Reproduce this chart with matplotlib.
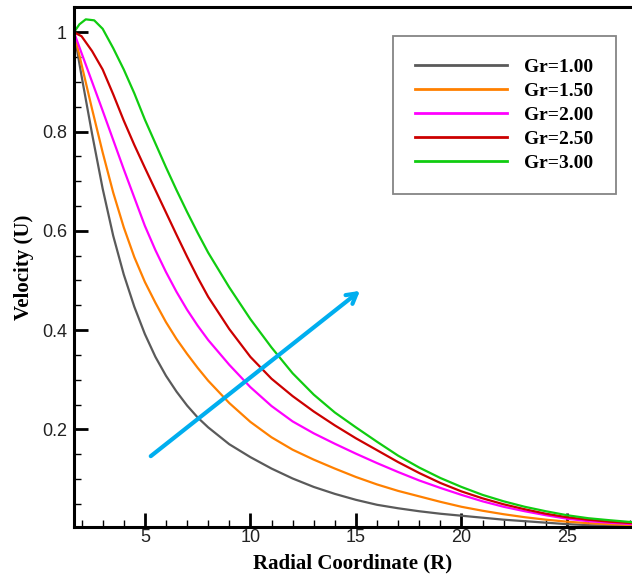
import matplotlib
matplotlib.use("Agg")
from matplotlib import pyplot as plt
from matplotlib.ticker import MultipleLocator, FormatStrFormatter

# data
labels = ["Gr=1.00", "Gr=1.50", "Gr=2.00", "Gr=2.50", "Gr=3.00"]
colores = ["#5a5a5a", "#ff8000", "#ff00ff", "#cc0000", "#10cc10"]

r = [1.64, 2.0, 2.5, 3.0, 3.5, 4.0, 4.5, 5.0, 5.5, 6.0, 6.5, 7.0, 7.5, 8.0,
     9.0, 10.0, 11.0, 12.0, 13.0, 14.0, 15.0, 16.0, 17.0, 18.0, 19.0, 20.0,
     21.0, 22.0, 23.0, 24.0, 25.0, 26.0, 27.0, 28.1]

u_gr1 = [1.0, 0.912, 0.795, 0.685, 0.59, 0.512, 0.447, 0.392, 0.346, 0.308, 0.276, 0.248, 0.224, 0.204,
         0.170, 0.144, 0.121, 0.101, 0.084, 0.070, 0.058, 0.048, 0.041, 0.035, 0.030, 0.026,
         0.022, 0.018, 0.015, 0.012, 0.009, 0.007, 0.006, 0.005]

u_gr15 = [1.0, 0.935, 0.845, 0.758, 0.677, 0.607, 0.547, 0.497, 0.455, 0.416, 0.382, 0.352, 0.324, 0.298,
          0.253, 0.215, 0.184, 0.159, 0.139, 0.121, 0.104, 0.089, 0.076, 0.065, 0.054, 0.044,
          0.036, 0.029, 0.023, 0.018, 0.014, 0.011, 0.009, 0.007]

u_gr2 = [1.0, 0.958, 0.90, 0.842, 0.783, 0.724, 0.667, 0.610, 0.561, 0.517, 0.477, 0.441, 0.409, 0.380,
         0.330, 0.285, 0.247, 0.216, 0.192, 0.171, 0.151, 0.132, 0.114, 0.097, 0.082, 0.068,
         0.055, 0.044, 0.035, 0.027, 0.020, 0.015, 0.012, 0.009]

u_gr25 = [1.0, 0.992, 0.962, 0.925, 0.875, 0.822, 0.773, 0.727, 0.682, 0.637, 0.592, 0.548, 0.506, 0.467,
          0.402, 0.346, 0.302, 0.267, 0.236, 0.208, 0.182, 0.158, 0.134, 0.112, 0.092, 0.075,
          0.061, 0.049, 0.039, 0.030, 0.023, 0.018, 0.014, 0.011]

r_gr3 = [1.64, 1.9, 2.2, 2.6] + r[3:]
u_gr3 = [1.0, 1.016, 1.026, 1.024, 1.007, 0.968, 0.925, 0.877, 0.824, 0.776, 0.728, 0.682, 0.638, 0.596, 0.556,
         0.486, 0.422, 0.365, 0.313, 0.270, 0.234, 0.204, 0.175, 0.147, 0.123, 0.102, 0.084,
         0.068, 0.055, 0.044, 0.035, 0.027, 0.021, 0.017, 0.013]

flecha_ini = (5.28, 0.146)
flecha_fin = (15.19, 0.479)

series = [(r, u_gr1), (r, u_gr15), (r, u_gr2), (r, u_gr25), (r_gr3, u_gr3)]

fig = plt.figure(figsize=(6.32, 5.78), dpi=100)
ax = fig.add_axes([0.117, 0.088, 0.883, 0.9])

for (x, u), lab, col in zip(series, labels, colores):
    ax.plot(x, u, color=col, lw=1.6, label=lab)

ax.annotate("", xy=flecha_fin, xytext=flecha_ini,
            arrowprops=dict(arrowstyle="->,head_length=0.7,head_width=0.4",
                            lw=3, color="#00aeef", shrinkA=0, shrinkB=0))

ax.set_xlim(1.64, 28.08)
ax.set_ylim(0.003, 1.051)
ax.xaxis.set_minor_locator(MultipleLocator(1))
ax.yaxis.set_minor_locator(MultipleLocator(0.05))
ax.yaxis.set_major_formatter(FormatStrFormatter("%g"))
ax.set_yticks([0.2, 0.4, 0.6, 0.8, 1.0])
ax.set_xticks([5, 10, 15, 20, 25])

ax.tick_params(which="major", direction="in", length=10, width=2, labelsize=13,
               labelcolor="#222222", labelfontfamily="Liberation Sans")
ax.tick_params(which="minor", direction="in", length=5, width=1)
ax.tick_params(axis="x", which="major", pad=1)
ax.tick_params(axis="y", which="major", pad=5)

for s in ["left", "bottom", "top"]:
    ax.spines[s].set_linewidth(2.2)
ax.spines["right"].set_visible(False)

ax.set_xlabel("Radial Coordinate (R)", fontsize=15, fontweight="bold",
              family="Liberation Serif", labelpad=6)
ax.set_ylabel("Velocity (U)", fontsize=15, fontweight="bold",
              family="Liberation Serif", labelpad=6)

leg = ax.legend(loc="upper right", bbox_to_anchor=(615.7 / 632, 1 - 36 / 578),
                bbox_transform=fig.transFigure, frameon=True, fancybox=False,
                prop=dict(family="Liberation Serif", weight="bold", size=14),
                handlelength=4.7, handletextpad=0.9, labelspacing=0.33,
                borderpad=1.15, borderaxespad=0)
leg.get_frame().set_edgecolor("#666666")
leg.get_frame().set_linewidth(1.3)
for l in leg.get_lines():
    l.set_linewidth(2)

fig.savefig("out.png", dpi=100)
